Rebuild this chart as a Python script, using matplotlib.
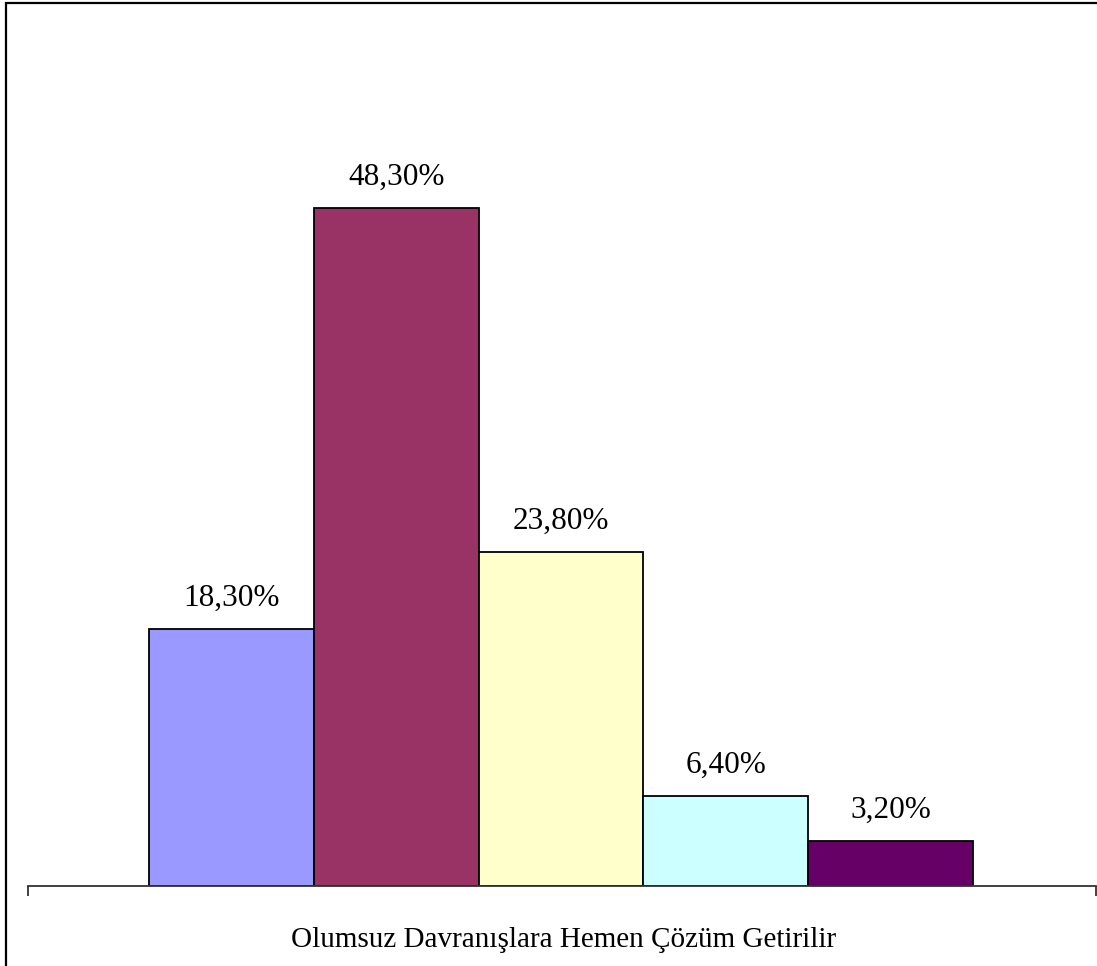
import matplotlib.pyplot as plt
from matplotlib.patches import Rectangle

plt.rcParams['font.family'] = ['Liberation Serif', 'DejaVu Serif']

values = [18.3, 48.3, 23.8, 6.4, 3.2]
labels = ['18,30%', '48,30%', '23,80%', '6,40%', '3,20%']
colors = ['#9999FF', '#993366', '#FFFFCC', '#CCFFFF', '#660066']
xlabel = 'Olumsuz Davranışlara Hemen Çözüm Getirilir'

W, H = 1097, 966
fig = plt.figure(figsize=(W / 100, H / 100), dpi=100)

# axes: x from 28 to 1096 px, baseline at 886 px, ymax 60 at 44 px
ax = fig.add_axes([28 / W, 1 - 886 / H, (1096 - 28) / W, (886 - 44) / H])

bw = 164.8 / 1068
n = len(values)
xs = [(i - (n - 1) / 2) * bw - 0.001 for i in range(n)]
bars = ax.bar(xs, values, width=bw, color=colors, edgecolor='black', linewidth=1.3)

for x, v, lab in zip(xs, values, labels):
    ax.annotate(lab, (x, v), xytext=(0, 17), textcoords='offset points',
                ha='center', va='baseline', fontsize=22.5)

ax.set_xlim(-0.5, 0.5)
ax.set_ylim(0, 60)
for s in ['top', 'right', 'left']:
    ax.spines[s].set_visible(False)
ax.spines['bottom'].set_color('#333333')
ax.spines['bottom'].set_linewidth(1.3)
ax.set_yticks([])
ax.set_xticks([-0.5, 0.5])
ax.set_xticklabels([])
ax.tick_params(axis='x', direction='out', length=7.2, width=1.3, color='#333333')

fig.text(564 / W, 1 - 947 / H, xlabel, ha='center', va='baseline', fontsize=21)

# outer chart border (left and top edges visible)
fig.patches.append(Rectangle((6 / W, -0.1), 1.2, 1.1 - 2.5 / H, transform=fig.transFigure,
                             fill=False, edgecolor='black', linewidth=1.6))

fig.savefig('out.png', dpi=100)
